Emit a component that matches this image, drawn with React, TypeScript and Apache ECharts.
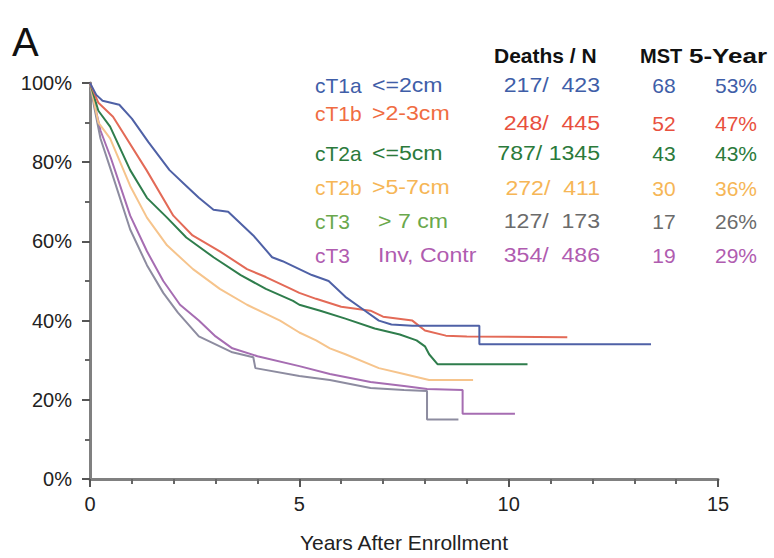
import React, { useEffect, useRef } from "react";
import * as echarts from "echarts";

// Kaplan-Meier curves: [years, survival %]
const cT1a: [number, number][] = [
  [0, 100], [0.15, 97], [0.3, 95.5], [0.7, 94.5], [1.0, 91], [1.4, 85], [1.9, 78], [2.3, 74],
  [2.6, 71], [2.95, 68], [3.3, 67.5], [3.9, 61.5], [4.35, 56], [4.6, 55], [5.0, 53], [5.3, 51.5],
  [5.7, 50], [6.1, 46], [6.5, 43], [6.9, 40], [7.2, 39], [7.7, 38.7], [9.3, 38.7], [9.3, 34], [13.4, 34],
];
const cT1b: [number, number][] = [
  [0, 100], [0.2, 95], [0.55, 91.5], [1.35, 78], [1.99, 66.5], [2.45, 61.5], [3.1, 57.5], [3.75, 53],
  [4.2, 51], [4.8, 48], [5.0, 47], [5.4, 45.5], [6.0, 43.5], [6.7, 42.5], [7.0, 41], [7.7, 40],
  [8.0, 37.5], [8.5, 36.2], [9.0, 36], [11.4, 35.8],
];
const cT2a: [number, number][] = [
  [0, 100], [0.2, 93], [0.48, 89], [0.96, 78], [1.36, 71], [1.84, 66], [2.3, 61], [2.95, 56],
  [3.6, 51.5], [4.2, 48], [4.85, 45], [5.0, 44], [5.5, 42.5], [6.1, 40.5], [6.8, 38], [7.4, 36.5],
  [7.8, 35], [8.0, 33.5], [8.1, 31.5], [8.3, 29], [10.45, 29],
];
const cT2b: [number, number][] = [
  [0, 100], [0.2, 90], [0.48, 86], [0.96, 74], [1.36, 66], [1.84, 59], [2.46, 53], [3.1, 48],
  [3.75, 44], [4.54, 40], [5.0, 37], [5.4, 35], [5.73, 33], [6.1, 31.5], [6.9, 28], [7.5, 26.5],
  [8.1, 25], [9.15, 25],
];
const cT3Size: [number, number][] = [
  [0, 100], [0.1, 94], [0.25, 86], [0.5, 78], [0.96, 63], [1.36, 54], [1.75, 47], [2.1, 42],
  [2.6, 36], [3.4, 32], [3.9, 30.75], [3.95, 28], [5.0, 26], [5.73, 25], [6.7, 23], [7.5, 22.5],
  [8.05, 22.25], [8.05, 15], [8.8, 15],
];
const cT3Inv: [number, number][] = [
  [0, 100], [0.1, 95], [0.25, 88], [0.5, 81], [0.96, 66.5], [1.36, 57.5], [1.75, 50], [2.15, 44],
  [2.6, 40], [3.0, 36], [3.4, 33], [4.0, 31], [5.0, 28.5], [5.73, 26.5], [6.7, 24.5], [7.5, 23.5],
  [8.05, 22.75], [8.9, 22.5], [8.9, 16.5], [10.15, 16.5],
];

const groupNames = ["cT1a", "cT1b", "cT2a", "cT2b", "cT3", "cT3"];
const groupSizes = ["<=2cm", ">2-3cm", "<=5cm", ">5-7cm", "> 7 cm", "Inv, Contr"];
const deathsN = ["217/  423", "248/  445", "787/ 1345", "272/  411", "127/  173", "354/  486"];
const mst = ["68", "52", "43", "30", "17", "19"];
const fiveYear = ["53%", "47%", "43%", "36%", "26%", "29%"];
const xTicks = [0, 5, 10, 15];
const yTicks = [0, 20, 40, 60, 80, 100];

const lineColors = ["#4f61a6", "#e36a57", "#2f7d4c", "#f6c48c", "#8d8ca0", "#a66db2"];
const labelColors = ["#3f5ea8", "#f06c42", "#2b7a3b", "#f6b656", "#6aa84c", "#b05cb0"];
const numColors = ["#3f5ea8", "#e8503e", "#2b7a3b", "#f6b656", "#6b6b6b", "#b05cb0"];

export default function App() {
  const ref = useRef<HTMLDivElement>(null);
  useEffect(() => {
    if (!ref.current) return;
    const chart = echarts.init(ref.current, undefined, { renderer: "svg" });
    const curves = [cT1a, cT1b, cT2a, cT2b, cT3Size, cT3Inv];
    const rowLabelY = [85, 113, 153, 187, 221, 255];
    const rowNumY = [85, 123, 153, 188, 221, 255];
    const font = "Liberation Sans, Arial, sans-serif";
    const graphics: any[] = [
      { type: "text", left: 12, top: 22, style: { text: "A", font: `40px ${font}`, fill: "#111" } },
      { type: "text", x: 494, y: 56, style: { text: "Deaths / N", font: `bold 20px ${font}`, fill: "#111", verticalAlign: "middle" }, scaleX: 1.05 },
      { type: "text", x: 640, y: 56, style: { text: "MST", font: `bold 20px ${font}`, fill: "#111", verticalAlign: "middle" } },
      { type: "text", x: 689, y: 56, style: { text: "5-Year", font: `bold 20px ${font}`, fill: "#111", verticalAlign: "middle" }, scaleX: 1.3 },
    ];
    groupNames.forEach((g, i) => {
      graphics.push({ type: "text", x: 315, y: rowLabelY[i], style: { text: g, font: `21px ${font}`, fill: labelColors[i], verticalAlign: "middle" } });
      graphics.push({ type: "text", x: i >= 4 ? 378 : 372, y: rowLabelY[i], style: { text: groupSizes[i], font: `21px ${font}`, fill: labelColors[i], verticalAlign: "middle" }, scaleX: 1.1 });
      graphics.push({ type: "text", x: 600, y: rowNumY[i], style: { text: deathsN[i], font: `21px ${font}`, fill: numColors[i], verticalAlign: "middle", align: "right" }, scaleX: 1.1 });
      graphics.push({ type: "text", x: 664, y: rowNumY[i], style: { text: mst[i], font: `21px ${font}`, fill: numColors[i], verticalAlign: "middle", align: "center" } });
      graphics.push({ type: "text", x: 736, y: rowNumY[i], style: { text: fiveYear[i], font: `21px ${font}`, fill: numColors[i], verticalAlign: "middle", align: "center" } });
    });
    const order = [5, 4, 3, 2, 1, 0];
    chart.setOption({
      animation: false,
      grid: { left: 90, right: 56, top: 83, bottom: 75 },
      xAxis: {
        type: "value", min: xTicks[0], max: xTicks[xTicks.length - 1], interval: 5,
        name: "Years After Enrollment", nameLocation: "middle", nameGap: 53,
        nameTextStyle: { fontSize: 21, color: "#222", fontFamily: font },
        axisLine: { lineStyle: { color: "#808080", width: 3 } },
        axisTick: { length: 8, lineStyle: { color: "#555", width: 2 } },
        minorTick: { show: true, splitNumber: 5, length: 5, lineStyle: { color: "#666", width: 2 } },
        axisLabel: { fontSize: 20, color: "#222", margin: 15, fontFamily: font },
        splitLine: { show: false },
      },
      yAxis: {
        type: "value", min: yTicks[0], max: yTicks[yTicks.length - 1], interval: 20,
        axisLine: { show: true, lineStyle: { color: "#808080", width: 3 } },
        axisTick: { show: true, length: 8, lineStyle: { color: "#555", width: 2 } },
        minorTick: { show: true, splitNumber: 2, length: 5, lineStyle: { color: "#666", width: 2 } },
        axisLabel: { fontSize: 20, color: "#222", margin: 18, formatter: (v: number) => `${v}%`, fontFamily: font },
        splitLine: { show: false },
      },
      graphic: graphics,
      series: order.map((i) => ({
        type: "line",
        name: groupNames[i] + " " + groupSizes[i],
        data: curves[i],
        showSymbol: false,
        symbol: "none",
        lineStyle: { color: lineColors[i], width: 2 },
        z: 2 + (5 - i),
      })),
    });
    return () => chart.dispose();
  }, []);
  return <div ref={ref} style={{ width: 774, height: 558, position: "absolute", left: 0, top: 0 }} />;
}
